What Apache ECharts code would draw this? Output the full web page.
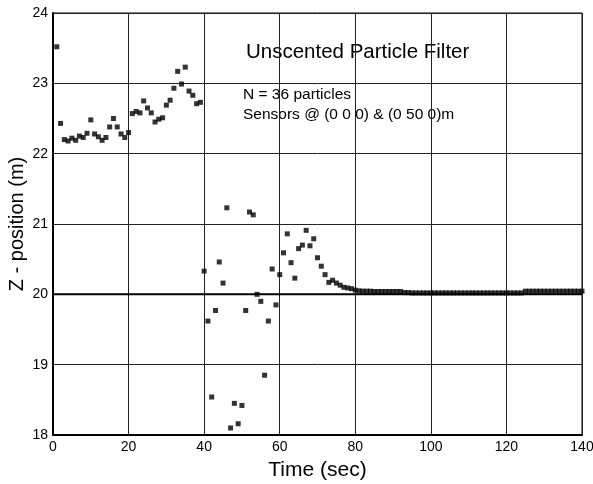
<!DOCTYPE html>
<html>
<head>
<meta charset="utf-8">
<script src="https://cdn.jsdelivr.net/npm/echarts@6/dist/echarts.min.js"></script>
<style>html,body{margin:0;padding:0;background:#fff}#c{width:593px;height:484px}</style>
</head>
<body>
<div id="c"></div>
<script>
var xTicks = [0, 20, 40, 60, 80, 100, 120, 140];
var yTicks = [18, 19, 20, 21, 22, 23, 24];
var titleText = 'Unscented Particle Filter';
var noteLines = ['N = 36 particles', 'Sensors @ (0 0 0) & (0 50 0)m'];
var xLabel = 'Time (sec)';
var yLabel = 'Z - position (m)';
var trueZ = 20;

var zEarly = [23.52, 22.43, 22.20, 22.18, 22.22, 22.19, 22.25, 22.23, 22.29, 22.48,
  22.28, 22.24, 22.19, 22.23, 22.38, 22.50, 22.38, 22.28, 22.23, 22.30,
  22.57, 22.60, 22.58, 22.75, 22.65, 22.58, 22.45, 22.49, 22.51, 22.69,
  22.76, 22.93, 23.17, 22.99, 23.23, 22.89, 22.83, 22.71, 22.73];
var zMid = [20.33, 19.62, 18.54, 19.77, 20.46, 20.16, 21.23, 18.10, 18.45, 18.16,
  18.42, 19.77, 21.17, 21.13, 20.00, 19.90, 18.85, 19.62, 20.36, 19.85,
  20.28, 20.59, 20.86, 20.45, 20.23, 20.65, 20.70, 20.91, 20.69, 20.79,
  20.52, 20.40, 20.28, 20.17, 20.20, 20.16, 20.13, 20.10, 20.09, 20.08,
  20.06, 20.05];
var zLate = [20.045, 20.045, 20.045, 20.04, 20.04, 20.04, 20.04, 20.04, 20.04, 20.04,
  20.04, 20.025, 20.025, 20.02, 20.02, 20.02, 20.02, 20.02, 20.02, 20.02,
  20.02, 20.02, 20.02, 20.02, 20.02, 20.02, 20.02, 20.02, 20.02, 20.02,
  20.02, 20.02, 20.02, 20.02, 20.02, 20.02, 20.02, 20.02, 20.02, 20.02,
  20.02, 20.02, 20.02, 20.045, 20.045, 20.045, 20.045, 20.045, 20.045, 20.045,
  20.045, 20.045, 20.045, 20.045, 20.045, 20.045, 20.045, 20.045, 20.045];
var zValues = zEarly.concat(zMid, zLate);
var tStart = 1;

var pts = zValues.map(function (v, i) { return [tStart + i, v]; });

var chart = echarts.init(document.getElementById('c'));
var FONT = 'Liberation Sans, Arial, sans-serif';
chart.setOption({
  animation: false,
  backgroundColor: '#fff',
  grid: { left: 53, right: 11, top: 13, bottom: 49, containLabel: false, outerBoundsMode: 'none',
    show: true, borderColor: '#000', borderWidth: 1, backgroundColor: 'transparent' },
  xAxis: {
    type: 'value', min: xTicks[0], max: xTicks[xTicks.length - 1], interval: 20,
    name: xLabel, nameLocation: 'middle', nameGap: 25, nameMoveOverlap: false,
    nameTextStyle: { fontFamily: FONT, fontSize: 21, color: '#000' },
    axisLine: { show: true, lineStyle: { color: '#000', width: 2 } },
    axisTick: { show: false },
    axisLabel: { fontFamily: FONT, fontSize: 14, color: '#000', margin: 5, hideOverlap: false },
    splitLine: { show: true, lineStyle: { color: '#222', width: 1 } }
  },
  yAxis: {
    type: 'value', min: yTicks[0], max: yTicks[yTicks.length - 1], interval: 1,
    name: yLabel, nameLocation: 'middle', nameGap: 26, nameRotate: 90, nameMoveOverlap: false,
    nameTextStyle: { fontFamily: FONT, fontSize: 20, color: '#000' },
    axisLine: { show: true, lineStyle: { color: '#000', width: 2 } },
    axisTick: { show: false },
    axisLabel: { fontFamily: FONT, fontSize: 14, color: '#000', margin: 5, hideOverlap: false },
    splitLine: { show: true, lineStyle: { color: '#222', width: 1 } }
  },
  series: [
    {
      type: 'line', data: [[xTicks[0], trueZ], [xTicks[xTicks.length - 1], trueZ]],
      showSymbol: false, lineStyle: { color: '#000', width: 2 }, z: 2, silent: true
    },
    {
      type: 'scatter', data: pts, symbol: 'rect', symbolSize: 5,
      itemStyle: { color: '#000' }, z: 3
    }
  ],
  graphic: [
    { type: 'text', x: 246, y: 52, style: { text: titleText, font: '20.5px ' + FONT, fill: '#000', verticalAlign: 'middle' } },
    { type: 'text', x: 243, y: 95, style: { text: noteLines[0], font: '15.5px ' + FONT, fill: '#000', verticalAlign: 'middle' } },
    { type: 'text', x: 243, y: 115, style: { text: noteLines[1], font: '15.5px ' + FONT, fill: '#000', verticalAlign: 'middle' } }
  ]
});
</script>
</body>
</html>
